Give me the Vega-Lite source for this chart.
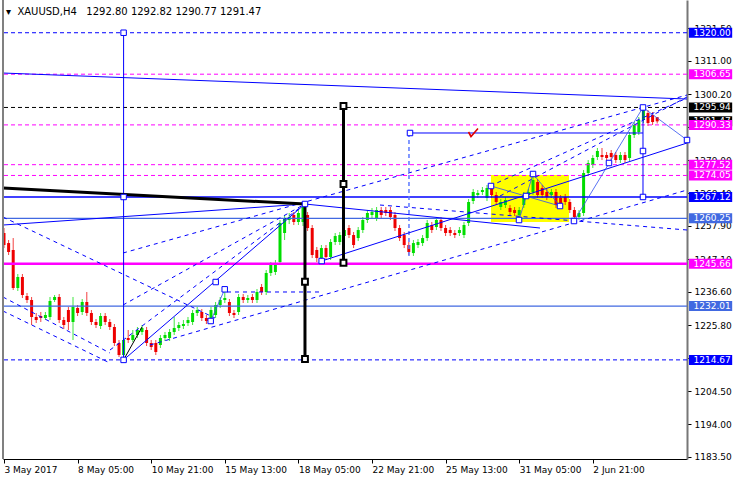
{
"$schema":"https://vega.github.io/schema/vega-lite/v6.json",
"width":684,"height":459,
"autosize":{"type":"none"},
"padding":{"left":3,"top":0,"right":49,"bottom":21},
"background":"white",
"config":{"font":"DejaVu Sans","view":{"stroke":null},"axis":{"grid":false}},
"title":{"text":"\u25be\u00a0\u00a0XAUUSD,H4\u00a0\u00a0\u00a01292.80 1292.82 1290.77 1291.47","anchor":"start","frame":"group","orient":"top","offset":-26,"dx":3,"baseline":"alphabetic","fontSize":10,"fontWeight":"normal","font":"DejaVu Sans","color":"#000"},
"datasets":{
"candles":[
{"i":0,"o":1255.52,"h":1257.13,"l":1250.68,"c":1251.65},
{"i":1,"o":1252.29,"h":1253.26,"l":1248.43,"c":1249.40},
{"i":2,"o":1250.05,"h":1253.90,"l":1237.17,"c":1237.81},
{"i":3,"o":1237.81,"h":1242.32,"l":1236.85,"c":1241.36},
{"i":4,"o":1241.36,"h":1242.32,"l":1234.59,"c":1235.56},
{"i":5,"o":1235.24,"h":1236.21,"l":1232.98,"c":1233.95},
{"i":6,"o":1233.95,"h":1234.92,"l":1225.90,"c":1228.48},
{"i":7,"o":1228.48,"h":1229.76,"l":1226.54,"c":1227.51},
{"i":8,"o":1228.80,"h":1230.09,"l":1226.87,"c":1228.15},
{"i":9,"o":1228.15,"h":1230.09,"l":1227.51,"c":1229.12},
{"i":10,"o":1228.48,"h":1234.92,"l":1227.51,"c":1233.63},
{"i":11,"o":1233.95,"h":1235.56,"l":1233.31,"c":1234.92},
{"i":12,"o":1234.92,"h":1235.88,"l":1226.54,"c":1227.51},
{"i":13,"o":1227.51,"h":1228.48,"l":1224.61,"c":1225.90},
{"i":14,"o":1230.73,"h":1231.70,"l":1224.29,"c":1226.87},
{"i":15,"o":1226.87,"h":1234.92,"l":1221.07,"c":1231.70},
{"i":16,"o":1231.37,"h":1232.34,"l":1228.80,"c":1229.76},
{"i":17,"o":1230.09,"h":1234.27,"l":1229.12,"c":1233.31},
{"i":18,"o":1233.31,"h":1236.53,"l":1228.80,"c":1229.76},
{"i":19,"o":1229.76,"h":1230.73,"l":1225.90,"c":1226.87},
{"i":20,"o":1226.87,"h":1227.83,"l":1224.93,"c":1225.90},
{"i":21,"o":1225.58,"h":1229.76,"l":1224.61,"c":1228.80},
{"i":22,"o":1228.80,"h":1229.76,"l":1225.90,"c":1226.87},
{"i":23,"o":1226.87,"h":1227.83,"l":1224.29,"c":1225.26},
{"i":24,"o":1225.26,"h":1226.22,"l":1219.14,"c":1220.10},
{"i":25,"o":1220.10,"h":1221.07,"l":1215.60,"c":1216.24},
{"i":26,"o":1216.24,"h":1222.03,"l":1214.67,"c":1221.07},
{"i":27,"o":1221.71,"h":1224.29,"l":1220.10,"c":1221.07},
{"i":28,"o":1221.07,"h":1224.29,"l":1220.43,"c":1222.68},
{"i":29,"o":1222.68,"h":1225.26,"l":1221.71,"c":1224.29},
{"i":30,"o":1223.65,"h":1225.90,"l":1222.68,"c":1224.93},
{"i":31,"o":1224.29,"h":1225.26,"l":1219.14,"c":1220.10},
{"i":32,"o":1220.10,"h":1221.07,"l":1217.85,"c":1218.82},
{"i":33,"o":1220.10,"h":1221.07,"l":1216.24,"c":1217.21},
{"i":34,"o":1219.46,"h":1222.68,"l":1218.49,"c":1221.71},
{"i":35,"o":1221.71,"h":1223.65,"l":1220.75,"c":1222.68},
{"i":36,"o":1221.71,"h":1224.61,"l":1220.75,"c":1223.65},
{"i":37,"o":1223.65,"h":1228.48,"l":1222.68,"c":1224.93},
{"i":38,"o":1224.93,"h":1226.87,"l":1223.97,"c":1225.90},
{"i":39,"o":1225.58,"h":1227.51,"l":1224.61,"c":1226.22},
{"i":40,"o":1226.54,"h":1228.48,"l":1225.58,"c":1227.51},
{"i":41,"o":1226.87,"h":1230.73,"l":1225.90,"c":1229.76},
{"i":42,"o":1229.76,"h":1231.70,"l":1228.80,"c":1230.73},
{"i":43,"o":1230.09,"h":1231.05,"l":1227.19,"c":1228.15},
{"i":44,"o":1228.15,"h":1229.12,"l":1226.22,"c":1227.19},
{"i":45,"o":1228.15,"h":1231.70,"l":1227.19,"c":1230.73},
{"i":46,"o":1229.12,"h":1233.31,"l":1228.15,"c":1232.34},
{"i":47,"o":1232.34,"h":1234.92,"l":1231.37,"c":1233.95},
{"i":48,"o":1233.95,"h":1237.81,"l":1232.98,"c":1234.59},
{"i":49,"o":1233.31,"h":1234.27,"l":1228.80,"c":1229.76},
{"i":50,"o":1229.76,"h":1230.73,"l":1228.15,"c":1229.12},
{"i":51,"o":1230.09,"h":1235.88,"l":1229.12,"c":1234.92},
{"i":52,"o":1234.92,"h":1235.88,"l":1232.98,"c":1233.95},
{"i":53,"o":1233.95,"h":1235.56,"l":1232.98,"c":1234.59},
{"i":54,"o":1234.92,"h":1235.88,"l":1232.98,"c":1233.95},
{"i":55,"o":1233.95,"h":1237.49,"l":1232.98,"c":1236.53},
{"i":56,"o":1238.14,"h":1239.10,"l":1235.56,"c":1236.53},
{"i":57,"o":1236.53,"h":1243.61,"l":1235.56,"c":1242.65},
{"i":58,"o":1242.65,"h":1246.18,"l":1241.68,"c":1245.22},
{"i":59,"o":1242.97,"h":1246.83,"l":1242.00,"c":1245.86},
{"i":60,"o":1246.18,"h":1259.70,"l":1245.22,"c":1258.74},
{"i":61,"o":1255.52,"h":1261.31,"l":1253.26,"c":1260.35},
{"i":62,"o":1259.70,"h":1261.96,"l":1258.41,"c":1260.67},
{"i":63,"o":1261.31,"h":1262.28,"l":1258.09,"c":1259.06},
{"i":64,"o":1259.06,"h":1262.92,"l":1258.09,"c":1261.96},
{"i":65,"o":1259.06,"h":1265.18,"l":1257.77,"c":1263.89},
{"i":66,"o":1261.31,"h":1262.28,"l":1256.16,"c":1257.13},
{"i":67,"o":1257.13,"h":1258.09,"l":1247.46,"c":1248.43},
{"i":68,"o":1250.05,"h":1251.01,"l":1246.18,"c":1247.46},
{"i":69,"o":1247.46,"h":1251.65,"l":1246.50,"c":1250.68},
{"i":70,"o":1250.68,"h":1251.65,"l":1246.83,"c":1247.79},
{"i":71,"o":1247.79,"h":1253.58,"l":1246.83,"c":1252.62},
{"i":72,"o":1252.62,"h":1255.52,"l":1251.65,"c":1254.55},
{"i":73,"o":1252.62,"h":1255.84,"l":1251.65,"c":1254.87},
{"i":74,"o":1254.55,"h":1257.45,"l":1253.58,"c":1256.48},
{"i":75,"o":1257.13,"h":1258.09,"l":1253.90,"c":1254.87},
{"i":76,"o":1254.87,"h":1255.84,"l":1250.68,"c":1251.65},
{"i":77,"o":1253.90,"h":1257.45,"l":1252.94,"c":1256.48},
{"i":78,"o":1256.48,"h":1260.67,"l":1255.52,"c":1259.70},
{"i":79,"o":1259.70,"h":1262.92,"l":1258.74,"c":1261.96},
{"i":80,"o":1261.31,"h":1263.57,"l":1260.35,"c":1262.28},
{"i":81,"o":1260.35,"h":1263.89,"l":1259.38,"c":1262.92},
{"i":82,"o":1262.92,"h":1263.89,"l":1260.35,"c":1261.31},
{"i":83,"o":1262.92,"h":1263.89,"l":1260.99,"c":1261.96},
{"i":84,"o":1262.92,"h":1263.89,"l":1259.70,"c":1260.67},
{"i":85,"o":1261.31,"h":1262.28,"l":1256.16,"c":1257.13},
{"i":86,"o":1257.13,"h":1258.09,"l":1252.94,"c":1253.90},
{"i":87,"o":1254.87,"h":1255.84,"l":1250.68,"c":1251.65},
{"i":88,"o":1251.65,"h":1252.62,"l":1248.43,"c":1249.40},
{"i":89,"o":1249.07,"h":1253.26,"l":1248.11,"c":1252.29},
{"i":90,"o":1251.65,"h":1253.58,"l":1250.68,"c":1252.62},
{"i":91,"o":1252.29,"h":1254.87,"l":1251.33,"c":1253.90},
{"i":92,"o":1253.90,"h":1259.70,"l":1252.94,"c":1258.74},
{"i":93,"o":1258.09,"h":1259.06,"l":1255.52,"c":1256.48},
{"i":94,"o":1257.45,"h":1260.67,"l":1256.48,"c":1259.70},
{"i":95,"o":1259.70,"h":1260.67,"l":1256.16,"c":1257.13},
{"i":96,"o":1257.13,"h":1258.09,"l":1254.55,"c":1255.52},
{"i":97,"o":1256.48,"h":1257.45,"l":1254.55,"c":1255.52},
{"i":98,"o":1255.52,"h":1256.48,"l":1253.90,"c":1254.87},
{"i":99,"o":1255.52,"h":1257.45,"l":1254.55,"c":1256.48},
{"i":100,"o":1254.87,"h":1259.06,"l":1253.90,"c":1258.09},
{"i":101,"o":1258.74,"h":1266.47,"l":1257.77,"c":1265.50},
{"i":102,"o":1265.82,"h":1269.69,"l":1264.86,"c":1268.72},
{"i":103,"o":1267.75,"h":1269.36,"l":1266.79,"c":1268.40},
{"i":104,"o":1268.72,"h":1270.33,"l":1267.75,"c":1269.36},
{"i":105,"o":1266.79,"h":1270.98,"l":1265.82,"c":1270.01},
{"i":106,"o":1270.01,"h":1270.98,"l":1266.79,"c":1267.75},
{"i":107,"o":1267.75,"h":1268.72,"l":1264.53,"c":1265.50},
{"i":108,"o":1263.89,"h":1266.47,"l":1262.92,"c":1265.50},
{"i":109,"o":1264.53,"h":1267.11,"l":1263.57,"c":1266.14},
{"i":110,"o":1263.57,"h":1264.53,"l":1261.31,"c":1262.28},
{"i":111,"o":1262.92,"h":1263.89,"l":1260.99,"c":1261.96},
{"i":112,"o":1261.31,"h":1263.89,"l":1260.35,"c":1262.92},
{"i":113,"o":1264.53,"h":1268.72,"l":1263.57,"c":1267.75},
{"i":114,"o":1267.75,"h":1269.69,"l":1266.79,"c":1268.72},
{"i":115,"o":1268.72,"h":1274.20,"l":1267.75,"c":1272.58},
{"i":116,"o":1271.94,"h":1272.91,"l":1266.79,"c":1267.75},
{"i":117,"o":1270.01,"h":1270.98,"l":1266.79,"c":1267.75},
{"i":118,"o":1268.72,"h":1269.69,"l":1266.14,"c":1267.11},
{"i":119,"o":1267.75,"h":1269.69,"l":1266.79,"c":1268.72},
{"i":120,"o":1268.72,"h":1269.69,"l":1263.57,"c":1264.53},
{"i":121,"o":1266.79,"h":1267.75,"l":1263.57,"c":1264.53},
{"i":122,"o":1267.11,"h":1268.08,"l":1264.53,"c":1265.50},
{"i":123,"o":1265.50,"h":1266.47,"l":1261.96,"c":1262.92},
{"i":124,"o":1262.92,"h":1263.89,"l":1259.38,"c":1260.67},
{"i":125,"o":1260.67,"h":1262.92,"l":1259.70,"c":1261.96},
{"i":126,"o":1261.96,"h":1275.80,"l":1260.99,"c":1274.84},
{"i":127,"o":1274.84,"h":1279.02,"l":1273.88,"c":1278.06},
{"i":128,"o":1277.42,"h":1280.63,"l":1276.45,"c":1279.67},
{"i":129,"o":1279.99,"h":1282.89,"l":1279.02,"c":1281.92},
{"i":130,"o":1280.63,"h":1282.89,"l":1279.02,"c":1279.99},
{"i":131,"o":1280.63,"h":1281.60,"l":1278.70,"c":1279.67},
{"i":132,"o":1281.28,"h":1282.24,"l":1279.02,"c":1279.99},
{"i":133,"o":1280.63,"h":1281.60,"l":1278.06,"c":1279.02},
{"i":134,"o":1279.02,"h":1281.60,"l":1278.06,"c":1280.63},
{"i":135,"o":1280.63,"h":1281.60,"l":1278.06,"c":1279.02},
{"i":136,"o":1279.67,"h":1288.04,"l":1278.70,"c":1287.07},
{"i":137,"o":1287.07,"h":1291.26,"l":1286.11,"c":1290.29},
{"i":138,"o":1288.04,"h":1292.87,"l":1287.07,"c":1291.90},
{"i":139,"o":1291.90,"h":1295.94,"l":1290.93,"c":1295.76},
{"i":140,"o":1294.15,"h":1295.12,"l":1289.97,"c":1290.93},
{"i":141,"o":1293.51,"h":1294.48,"l":1290.29,"c":1291.26},
{"i":142,"o":1292.80,"h":1292.82,"l":1290.77,"c":1291.47}
],
"blueDashLv":[{"p":1320.00},{"p":1214.67}],
"blueLv":[{"p":1267.12}],
"magDashLv":[{"p":1306.65},{"p":1290.33},{"p":1277.52},{"p":1274.05}],
"magLv":[{"p":1245.66}],
"steelLv":[{"p":1260.25},{"p":1232.01}],
"blackLv":[{"p":1295.94}],
"lastPrice":[{"p":1291.47}],
"zone":[{"i1":105.87,"p1":1259.06,"i2":122.83,"p2":1274.2}],
"segBlue":[
{"i1":-0.22,"p1":1307.03,"i2":148.48,"p2":1298.66},
{"i1":-0.22,"p1":1258.09,"i2":65.43,"p2":1264.86},
{"i1":26,"p1":1214.67,"i2":65.43,"p2":1264.86},
{"i1":69.06,"p1":1246.5,"i2":148.48,"p2":1284.49},
{"i1":65.43,"p1":1264.86,"i2":116.52,"p2":1257.13},
{"i1":88.26,"p1":1287.72,"i2":138.91,"p2":1287.72},
{"i1":26,"p1":1214.67,"i2":26,"p2":1320.0},
{"i1":138.91,"p1":1267.12,"i2":138.91,"p2":1295.94}
],
"segLight":[
{"i1":123.91,"p1":1259.38,"i2":138.91,"p2":1295.94},
{"i1":138.91,"p1":1295.94,"i2":148.48,"p2":1285.46},
{"i1":105.87,"p1":1270.65,"i2":120.87,"p2":1264.21},
{"i1":111.96,"p1":1259.70,"i2":115.0,"p2":1274.52},
{"i1":115.0,"p1":1274.52,"i2":120.87,"p2":1264.21},
{"i1":44.93,"p1":1227.19,"i2":47.98,"p2":1237.39}
],
"segDash":[
{"i1":25.87,"p1":1249.08,"i2":148.48,"p2":1299.95},
{"i1":-0.22,"p1":1260.67,"i2":45.87,"p2":1228.16},
{"i1":-0.22,"p1":1234.91,"i2":23.04,"p2":1216.88},
{"i1":-0.22,"p1":1230.41,"i2":23.04,"p2":1213.66},
{"i1":31.74,"p1":1219.46,"i2":148.48,"p2":1269.36},
{"i1":23.04,"p1":1217.85,"i2":65.43,"p2":1264.86},
{"i1":25.87,"p1":1232.34,"i2":65.43,"p2":1264.86},
{"i1":81.74,"p1":1264.53,"i2":148.48,"p2":1256.49},
{"i1":105.65,"p1":1270.65,"i2":148.48,"p2":1298.98},
{"i1":107.83,"p1":1267.43,"i2":148.48,"p2":1299.31},
{"i1":48.48,"p1":1236.53,"i2":68.7,"p2":1236.53}
],
"segDashLight":[{"i1":88.04,"p1":1287.72,"i2":88.04,"p2":1247.46}],
"segBlack":[
{"i1":-0.22,"p1":1270.01,"i2":65.43,"p2":1264.86},
{"i1":73.8,"p1":1245.95,"i2":73.8,"p2":1296.4},
{"i1":65.43,"p1":1214.96,"i2":65.43,"p2":1264.86}
],
"segBlackThin":[{"i1":26,"p1":1214.67,"i2":30.0,"p2":1225.26}],
"sqBlue":[
{"i":26,"p":1320.0},{"i":26,"p":1267.12},{"i":26,"p":1214.67},{"i":65.43,"p":1264.86},
{"i":44.93,"p":1227.19},{"i":47.98,"p":1237.39},{"i":46.02,"p":1239.74},{"i":88.26,"p":1287.72},
{"i":69.06,"p":1246.5},{"i":105.87,"p":1270.65},{"i":111.96,"p":1259.70},{"i":115.0,"p":1274.52},
{"i":113.48,"p":1267.43},{"i":120.87,"p":1264.21},{"i":123.91,"p":1259.38},{"i":131.52,"p":1278.06},
{"i":138.91,"p":1295.94},{"i":138.91,"p":1281.92},{"i":138.91,"p":1267.12},{"i":148.48,"p":1285.46}
],
"sqBlack":[{"i":73.8,"p":1296.4},{"i":73.8,"p":1271.3},{"i":73.8,"p":1245.95},{"i":65.43,"p":1239.84},{"i":65.43,"p":1214.96}],
"check":[{"k":0,"i":100.98,"p":1288.04},{"k":1,"i":101.52,"p":1286.59},{"k":2,"i":103.04,"p":1289.16}]
},
"layer":[
{"data":{"name":"zone"},"mark":{"type":"rect","color":"#ffff00"},
 "encoding":{
 "x":{"field":"i1","type":"quantitative","scale":{"domain":[-0.2174,148.4783],"nice":false,"zero":false},
   "axis":{"orient":"bottom","title":null,"values":[0,16,32,48,64,80,96,112,128],"tickCount":30,
   "labelExpr":"datum.value == 0 ? '3 May 2017' : datum.value == 16 ? '8 May 05:00' : datum.value == 32 ? '10 May 21:00' : datum.value == 48 ? '15 May 13:00' : datum.value == 64 ? '18 May 05:00' : datum.value == 80 ? '22 May 21:00' : datum.value == 96 ? '25 May 13:00' : datum.value == 112 ? '31 May 05:00' : '2 Jun 21:00'",
   "tickSize":4,"tickColor":"#000","domainColor":"#000","domainWidth":1,"labelColor":"#000","labelFontSize":9,"labelFont":"DejaVu Sans","labelAlign":"left","labelBaseline":"top","labelPadding":2,"labelFlush":false,"labelOverlap":false,"labelBound":false}},
 "x2":{"field":"i2"},
 "y":{"field":"p1","type":"quantitative","scale":{"domain":[1182.76,1330.54],"nice":false,"zero":false},
   "axis":{"orient":"right","title":null,"values":[1183.5,1194.0,1204.5,1215.2,1225.8,1236.6,1247.1,1257.9,1268.4,1279.0,1289.7,1300.2,1311.0,1321.5],"tickCount":40,"format":".2f",
   "tickSize":4,"tickColor":"#000","domainColor":"#777","domainWidth":2,"labelColor":"#000","labelFontSize":9,"labelFont":"DejaVu Sans","labelAlign":"left","labelBaseline":"middle","labelPadding":3,"labelFlush":false,"labelOverlap":false,"labelBound":false}},
 "y2":{"field":"p2"}}},
{"data":{"name":"candles"},"mark":{"type":"rule","strokeWidth":1,"opacity":0.75},
 "encoding":{
 "x":{"field":"i","type":"quantitative","scale":{"domain":[-0.2174,148.4783],"nice":false,"zero":false}},
 "y":{"field":"l","type":"quantitative","scale":{"domain":[1182.76,1330.54],"nice":false,"zero":false}},
 "y2":{"field":"h"},
 "color":{"condition":{"test":"datum.c >= datum.o","value":"#00dd00"},"value":"#ee0000"}}},
{"data":{"name":"candles"},"mark":{"type":"rule","strokeWidth":3,"strokeCap":"butt"},
 "encoding":{"x":{"field":"i","type":"quantitative","scale":{"domain":[-0.2174,148.4783],"nice":false,"zero":false}},
 "y":{"field":"o","type":"quantitative","scale":{"domain":[1182.76,1330.54],"nice":false,"zero":false}},"y2":{"field":"c"},
 "color":{"condition":{"test":"datum.c >= datum.o","value":"#00dd00"},"value":"#ee0000"}}},
{"data":{"name":"blackLv"},"mark":{"type":"rule","color":"#000000","strokeWidth":1,"strokeDash":[4,3]},
 "encoding":{"y":{"field":"p","type":"quantitative","scale":{"domain":[1182.76,1330.54],"nice":false,"zero":false}}}},
{"data":{"name":"magDashLv"},"mark":{"type":"rule","color":"#ff00ff","strokeWidth":1,"strokeDash":[4,3]},
 "encoding":{"y":{"field":"p","type":"quantitative","scale":{"domain":[1182.76,1330.54],"nice":false,"zero":false}}}},
{"data":{"name":"blueDashLv"},"mark":{"type":"rule","color":"#0000ff","strokeWidth":1,"strokeDash":[4,3]},
 "encoding":{"y":{"field":"p","type":"quantitative","scale":{"domain":[1182.76,1330.54],"nice":false,"zero":false}}}},
{"data":{"name":"blueLv"},"mark":{"type":"rule","color":"#0000ff","strokeWidth":1.3},
 "encoding":{"y":{"field":"p","type":"quantitative","scale":{"domain":[1182.76,1330.54],"nice":false,"zero":false}}}},
{"data":{"name":"steelLv"},"mark":{"type":"rule","color":"#4169e1","strokeWidth":1.2},
 "encoding":{"y":{"field":"p","type":"quantitative","scale":{"domain":[1182.76,1330.54],"nice":false,"zero":false}}}},
{"data":{"name":"magLv"},"mark":{"type":"rule","color":"#ff00ff","strokeWidth":2.5},
 "encoding":{"y":{"field":"p","type":"quantitative","scale":{"domain":[1182.76,1330.54],"nice":false,"zero":false}}}},
{"data":{"name":"segDash"},"mark":{"type":"rule","color":"#0000ff","strokeWidth":1,"strokeDash":[4,4]},
 "encoding":{"x":{"field":"i1","type":"quantitative","scale":{"domain":[-0.2174,148.4783],"nice":false,"zero":false}},"x2":{"field":"i2"},
 "y":{"field":"p1","type":"quantitative","scale":{"domain":[1182.76,1330.54],"nice":false,"zero":false}},"y2":{"field":"p2"}}},
{"data":{"name":"segDashLight"},"mark":{"type":"rule","color":"#5a78ff","strokeWidth":1.5,"strokeDash":[4,3]},
 "encoding":{"x":{"field":"i1","type":"quantitative","scale":{"domain":[-0.2174,148.4783],"nice":false,"zero":false}},"x2":{"field":"i2"},
 "y":{"field":"p1","type":"quantitative","scale":{"domain":[1182.76,1330.54],"nice":false,"zero":false}},"y2":{"field":"p2"}}},
{"data":{"name":"segBlue"},"mark":{"type":"rule","color":"#0000ff","strokeWidth":1},
 "encoding":{"x":{"field":"i1","type":"quantitative","scale":{"domain":[-0.2174,148.4783],"nice":false,"zero":false}},"x2":{"field":"i2"},
 "y":{"field":"p1","type":"quantitative","scale":{"domain":[1182.76,1330.54],"nice":false,"zero":false}},"y2":{"field":"p2"}}},
{"data":{"name":"segLight"},"mark":{"type":"rule","color":"#3050f0","strokeWidth":1,"opacity":0.8},
 "encoding":{"x":{"field":"i1","type":"quantitative","scale":{"domain":[-0.2174,148.4783],"nice":false,"zero":false}},"x2":{"field":"i2"},
 "y":{"field":"p1","type":"quantitative","scale":{"domain":[1182.76,1330.54],"nice":false,"zero":false}},"y2":{"field":"p2"}}},
{"data":{"name":"segBlack"},"mark":{"type":"rule","color":"#000000","strokeWidth":3},
 "encoding":{"x":{"field":"i1","type":"quantitative","scale":{"domain":[-0.2174,148.4783],"nice":false,"zero":false}},"x2":{"field":"i2"},
 "y":{"field":"p1","type":"quantitative","scale":{"domain":[1182.76,1330.54],"nice":false,"zero":false}},"y2":{"field":"p2"}}},
{"data":{"name":"segBlackThin"},"mark":{"type":"rule","color":"#000000","strokeWidth":1},
 "encoding":{"x":{"field":"i1","type":"quantitative","scale":{"domain":[-0.2174,148.4783],"nice":false,"zero":false}},"x2":{"field":"i2"},
 "y":{"field":"p1","type":"quantitative","scale":{"domain":[1182.76,1330.54],"nice":false,"zero":false}},"y2":{"field":"p2"}}},
{"data":{"name":"sqBlue"},"mark":{"type":"point","shape":"square","size":30,"filled":false,"fill":"#ffffff","fillOpacity":1,"stroke":"#0000ff","strokeWidth":1,"opacity":1},
 "encoding":{"x":{"field":"i","type":"quantitative","scale":{"domain":[-0.2174,148.4783],"nice":false,"zero":false}},
 "y":{"field":"p","type":"quantitative","scale":{"domain":[1182.76,1330.54],"nice":false,"zero":false}}}},
{"data":{"name":"sqBlack"},"mark":{"type":"point","shape":"square","size":34,"filled":false,"fill":"#ffffff","fillOpacity":1,"stroke":"#000000","strokeWidth":2,"opacity":1},
 "encoding":{"x":{"field":"i","type":"quantitative","scale":{"domain":[-0.2174,148.4783],"nice":false,"zero":false}},
 "y":{"field":"p","type":"quantitative","scale":{"domain":[1182.76,1330.54],"nice":false,"zero":false}}}},
{"data":{"name":"check"},"mark":{"type":"line","color":"#e00000","strokeWidth":1.6},
 "encoding":{"x":{"field":"i","type":"quantitative","scale":{"domain":[-0.2174,148.4783],"nice":false,"zero":false}},
 "y":{"field":"p","type":"quantitative","scale":{"domain":[1182.76,1330.54],"nice":false,"zero":false}},"order":{"field":"k"}}},
{"data":{"values":[{}]},"mark":{"type":"rule","color":"#808080","strokeWidth":2},
 "encoding":{"x":{"datum":-0.2174,"type":"quantitative","scale":{"domain":[-0.2174,148.4783],"nice":false,"zero":false}}}},
{"data":{"name":"lastPrice"},"mark":{"type":"rule","color":"#000000","strokeWidth":10,"strokeCap":"butt"},
 "encoding":{"x":{"datum":148.91,"type":"quantitative","scale":{"domain":[-0.2174,148.4783],"nice":false,"zero":false}},"x2":{"datum":158.3},
 "y":{"field":"p","type":"quantitative","scale":{"domain":[1182.76,1330.54],"nice":false,"zero":false}}}},
{"data":{"name":"lastPrice"},"mark":{"type":"text","color":"#ffffff","fontSize":9,"align":"left","baseline":"middle","font":"DejaVu Sans"},
 "encoding":{"x":{"datum":149.9,"type":"quantitative","scale":{"domain":[-0.2174,148.4783],"nice":false,"zero":false}},
 "y":{"field":"p","type":"quantitative","scale":{"domain":[1182.76,1330.54],"nice":false,"zero":false}},"text":{"field":"p","type":"quantitative","format":".2f"}}},
{"data":{"name":"blackLv"},"mark":{"type":"rule","color":"#000000","strokeWidth":10,"strokeCap":"butt"},
 "encoding":{"x":{"datum":148.91,"type":"quantitative","scale":{"domain":[-0.2174,148.4783],"nice":false,"zero":false}},"x2":{"datum":158.3},
 "y":{"field":"p","type":"quantitative","scale":{"domain":[1182.76,1330.54],"nice":false,"zero":false}}}},
{"data":{"name":"blackLv"},"mark":{"type":"text","color":"#ffffff","fontSize":9,"align":"left","baseline":"middle","font":"DejaVu Sans"},
 "encoding":{"x":{"datum":149.9,"type":"quantitative","scale":{"domain":[-0.2174,148.4783],"nice":false,"zero":false}},
 "y":{"field":"p","type":"quantitative","scale":{"domain":[1182.76,1330.54],"nice":false,"zero":false}},"text":{"field":"p","type":"quantitative","format":".2f"}}},
{"data":{"name":"magDashLv"},"mark":{"type":"rule","color":"#ff00ff","strokeWidth":10,"strokeCap":"butt"},
 "encoding":{"x":{"datum":148.91,"type":"quantitative","scale":{"domain":[-0.2174,148.4783],"nice":false,"zero":false}},"x2":{"datum":158.3},
 "y":{"field":"p","type":"quantitative","scale":{"domain":[1182.76,1330.54],"nice":false,"zero":false}}}},
{"data":{"name":"magDashLv"},"mark":{"type":"text","color":"#ffffff","fontSize":9,"align":"left","baseline":"middle","font":"DejaVu Sans"},
 "encoding":{"x":{"datum":149.9,"type":"quantitative","scale":{"domain":[-0.2174,148.4783],"nice":false,"zero":false}},
 "y":{"field":"p","type":"quantitative","scale":{"domain":[1182.76,1330.54],"nice":false,"zero":false}},"text":{"field":"p","type":"quantitative","format":".2f"}}},
{"data":{"name":"magLv"},"mark":{"type":"rule","color":"#ff00ff","strokeWidth":10,"strokeCap":"butt"},
 "encoding":{"x":{"datum":148.91,"type":"quantitative","scale":{"domain":[-0.2174,148.4783],"nice":false,"zero":false}},"x2":{"datum":158.3},
 "y":{"field":"p","type":"quantitative","scale":{"domain":[1182.76,1330.54],"nice":false,"zero":false}}}},
{"data":{"name":"magLv"},"mark":{"type":"text","color":"#ffffff","fontSize":9,"align":"left","baseline":"middle","font":"DejaVu Sans"},
 "encoding":{"x":{"datum":149.9,"type":"quantitative","scale":{"domain":[-0.2174,148.4783],"nice":false,"zero":false}},
 "y":{"field":"p","type":"quantitative","scale":{"domain":[1182.76,1330.54],"nice":false,"zero":false}},"text":{"field":"p","type":"quantitative","format":".2f"}}},
{"data":{"name":"blueDashLv"},"mark":{"type":"rule","color":"#0000ff","strokeWidth":10,"strokeCap":"butt"},
 "encoding":{"x":{"datum":148.91,"type":"quantitative","scale":{"domain":[-0.2174,148.4783],"nice":false,"zero":false}},"x2":{"datum":158.3},
 "y":{"field":"p","type":"quantitative","scale":{"domain":[1182.76,1330.54],"nice":false,"zero":false}}}},
{"data":{"name":"blueDashLv"},"mark":{"type":"text","color":"#ffffff","fontSize":9,"align":"left","baseline":"middle","font":"DejaVu Sans"},
 "encoding":{"x":{"datum":149.9,"type":"quantitative","scale":{"domain":[-0.2174,148.4783],"nice":false,"zero":false}},
 "y":{"field":"p","type":"quantitative","scale":{"domain":[1182.76,1330.54],"nice":false,"zero":false}},"text":{"field":"p","type":"quantitative","format":".2f"}}},
{"data":{"name":"blueLv"},"mark":{"type":"rule","color":"#0000ff","strokeWidth":10,"strokeCap":"butt"},
 "encoding":{"x":{"datum":148.91,"type":"quantitative","scale":{"domain":[-0.2174,148.4783],"nice":false,"zero":false}},"x2":{"datum":158.3},
 "y":{"field":"p","type":"quantitative","scale":{"domain":[1182.76,1330.54],"nice":false,"zero":false}}}},
{"data":{"name":"blueLv"},"mark":{"type":"text","color":"#ffffff","fontSize":9,"align":"left","baseline":"middle","font":"DejaVu Sans"},
 "encoding":{"x":{"datum":149.9,"type":"quantitative","scale":{"domain":[-0.2174,148.4783],"nice":false,"zero":false}},
 "y":{"field":"p","type":"quantitative","scale":{"domain":[1182.76,1330.54],"nice":false,"zero":false}},"text":{"field":"p","type":"quantitative","format":".2f"}}},
{"data":{"name":"steelLv"},"mark":{"type":"rule","color":"#4169e1","strokeWidth":10,"strokeCap":"butt"},
 "encoding":{"x":{"datum":148.91,"type":"quantitative","scale":{"domain":[-0.2174,148.4783],"nice":false,"zero":false}},"x2":{"datum":158.3},
 "y":{"field":"p","type":"quantitative","scale":{"domain":[1182.76,1330.54],"nice":false,"zero":false}}}},
{"data":{"name":"steelLv"},"mark":{"type":"text","color":"#ffffff","fontSize":9,"align":"left","baseline":"middle","font":"DejaVu Sans"},
 "encoding":{"x":{"datum":149.9,"type":"quantitative","scale":{"domain":[-0.2174,148.4783],"nice":false,"zero":false}},
 "y":{"field":"p","type":"quantitative","scale":{"domain":[1182.76,1330.54],"nice":false,"zero":false}},"text":{"field":"p","type":"quantitative","format":".2f"}}}
]
}
